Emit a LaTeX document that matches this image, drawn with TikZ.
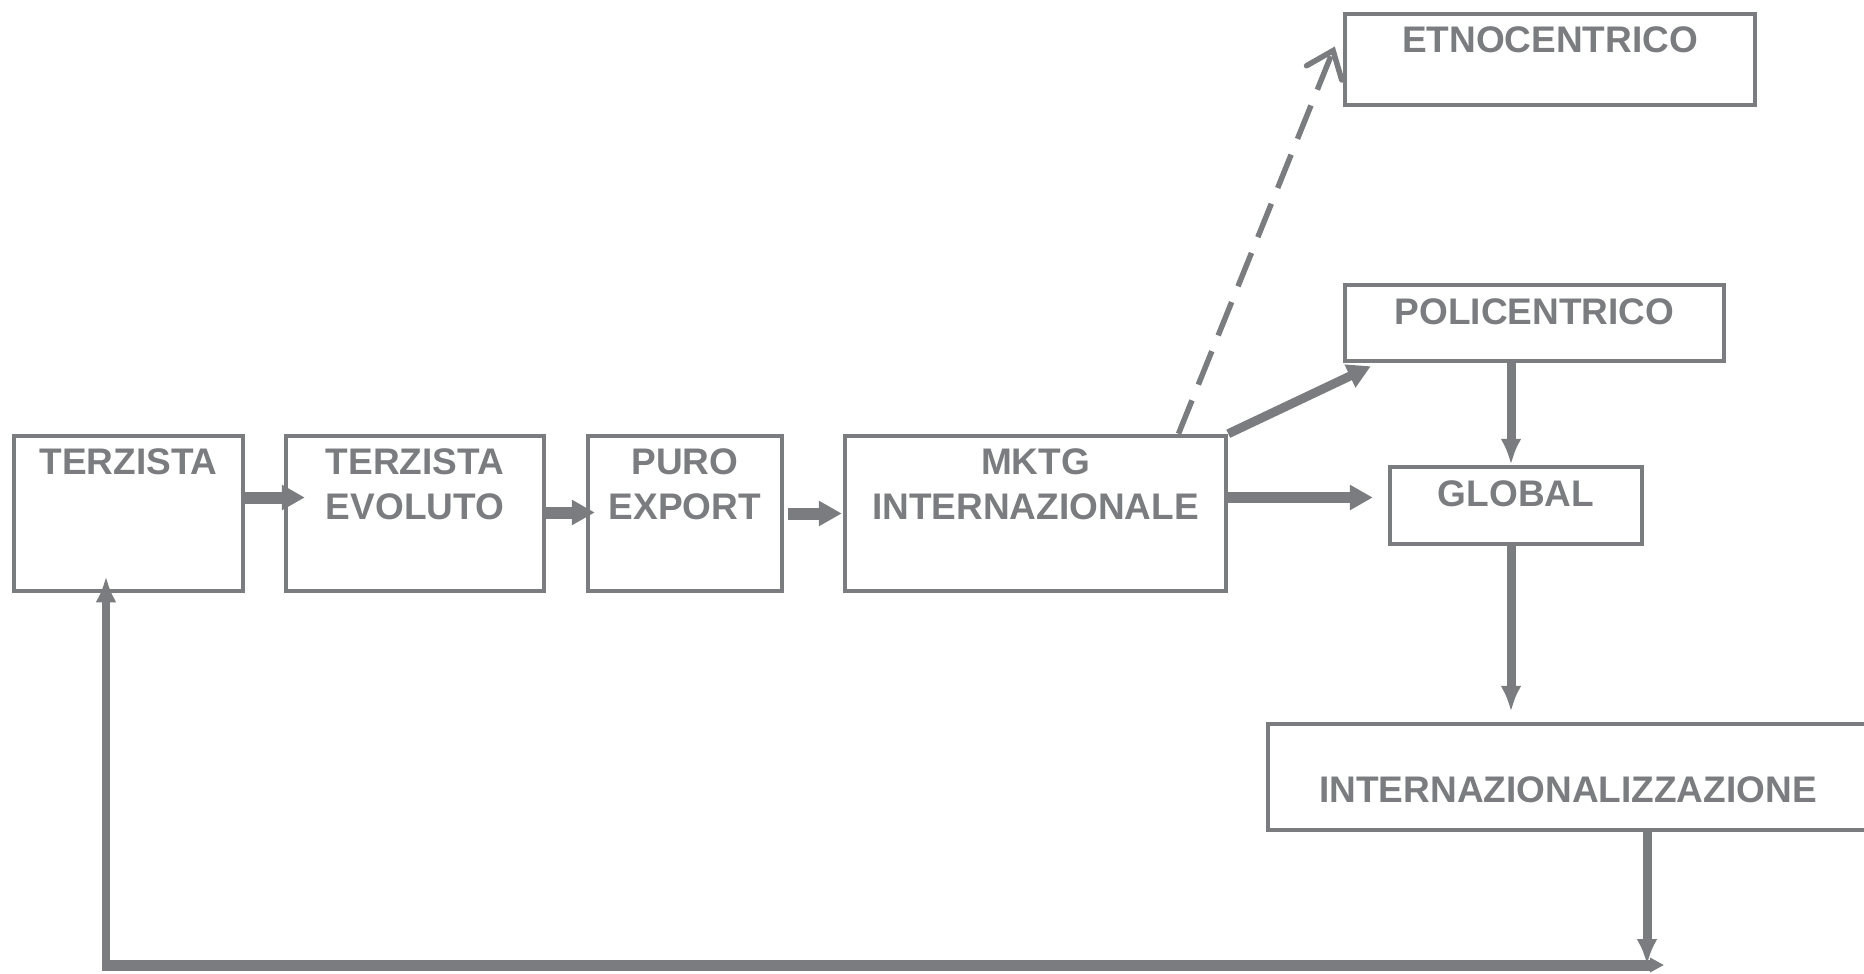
\documentclass[tikz,border=0pt]{standalone}
\usepackage{fontspec}
\setmainfont{Liberation Sans}
\usepackage{tikz}
\usetikzlibrary{arrows.meta, calc, positioning}
\definecolor{diagray}{RGB}{123,124,128}

\begin{document}
\begin{tikzpicture}[x=1pt, y=-1pt]
	\tikzstyle{box}=[rectangle, draw=diagray, line width=4.5pt, inner sep=0pt, fill=white]
	\tikzstyle{lbl}=[anchor=north, inner sep=0pt, align=center, text=diagray, font=\fontsize{37}{45}\selectfont\bfseries]
	\tikzstyle{flow}=[draw=diagray, line width=12pt, -{Triangle[length=23pt,width=24pt]}]
	\tikzstyle{drop}=[draw=diagray, line width=9pt, -{Latex[length=26pt,width=21pt]}]
	\useasboundingbox (0,0) rectangle (1864,974);

	\node (terz) at (128.5,513.5) [box, minimum width=229pt, minimum height=155pt]{};
	\node (evol) at (415,513.5) [box, minimum width=258pt, minimum height=155pt]{};
	\node (puro) at (685,513.5) [box, minimum width=194pt, minimum height=155pt]{};
	\node (mktg) at (1035.5,513.5) [box, minimum width=381pt, minimum height=155pt]{};
	\node (etno) at (1550,59.5) [box, minimum width=410pt, minimum height=91pt]{};
	\node (poli) at (1534.5,323) [box, minimum width=379pt, minimum height=76pt]{};
	\node (glob) at (1516,505.5) [box, minimum width=252pt, minimum height=77pt]{};
	\node (inter) at (1590,777) [box, minimum width=644pt, minimum height=106pt]{};

	\node (terzT) at ($(terz.north)+(0,15)$) [lbl]{TERZISTA};
	\node (evolT) at ($(evol.north)+(0,15)$) [lbl]{TERZISTA\\EVOLUTO};
	\node (puroT) at ($(puro.north)+(0,15)$) [lbl]{PURO\\EXPORT};
	\node (mktgT) at ($(mktg.north)+(0,15)$) [lbl]{MKTG\\INTERNAZIONALE};
	\node (etnoT) at ($(etno.north)+(0,15)$) [lbl]{ETNOCENTRICO};
	\node (poliT) at ($(poli.north)+(0,16)$) [lbl]{POLICENTRICO};
	\node (globT) at ($(glob.north)+(0,16)$) [lbl]{GLOBAL};
	\node (interT) at (1568,776) [lbl]{INTERNAZIONALIZZAZIONE};

	\coordinate (c0) at (106,965);
	\coordinate (c1) at (1664,965);
	\coordinate (c2) at (1647,965);

	\draw[flow] ($(terz.east)+(0,-16)$) -- ($(evol.west)+(21,-16)$);
	\draw[flow] ($(evol.east)+(0,-1)$) -- ($(puro.west)+(9,-1)$);
	\draw[flow] ($(puro.east)+(4,0)$) -- ($(mktg.west)+(-1,0)$);
	\draw[flow, line width=11pt] ($(mktg.east)+(0,-16)$) -- ($(glob.west)+(-15,-8)$);
	\draw[flow, line width=9pt] (mktg.north east) -- ($(poli.south west)+(28,3)$);
	\draw[draw=diagray, line width=5.5pt, dash pattern=on 36pt off 17pt,
		-{Straight Barb[length=24pt,width=38pt,line cap=round]}]
		($(mktg.north)+(143,0)$) -- ($(etno.west)+(-8,-13)$);

	\draw[drop] ($(poli.south)+(-23.5,0)$) -- ($(glob.north)+(-5,0)$);
	\draw[drop] ($(glob.south)+(-5,0)$) -- ($(glob.south |- inter.north)+(-5,-10)$);
	\draw[drop] ($(inter.south)+(57,0)$) -- (c2);
	\draw[draw=diagray, line width=11pt, -{Triangle[length=14pt,width=14pt]}] ($(c0)+(-4,0)$) -- (c1);
	\draw[drop, line width=8pt] (c0) -- ($(terz.south)+(-22.5,-17)$);
\end{tikzpicture}
\end{document}
